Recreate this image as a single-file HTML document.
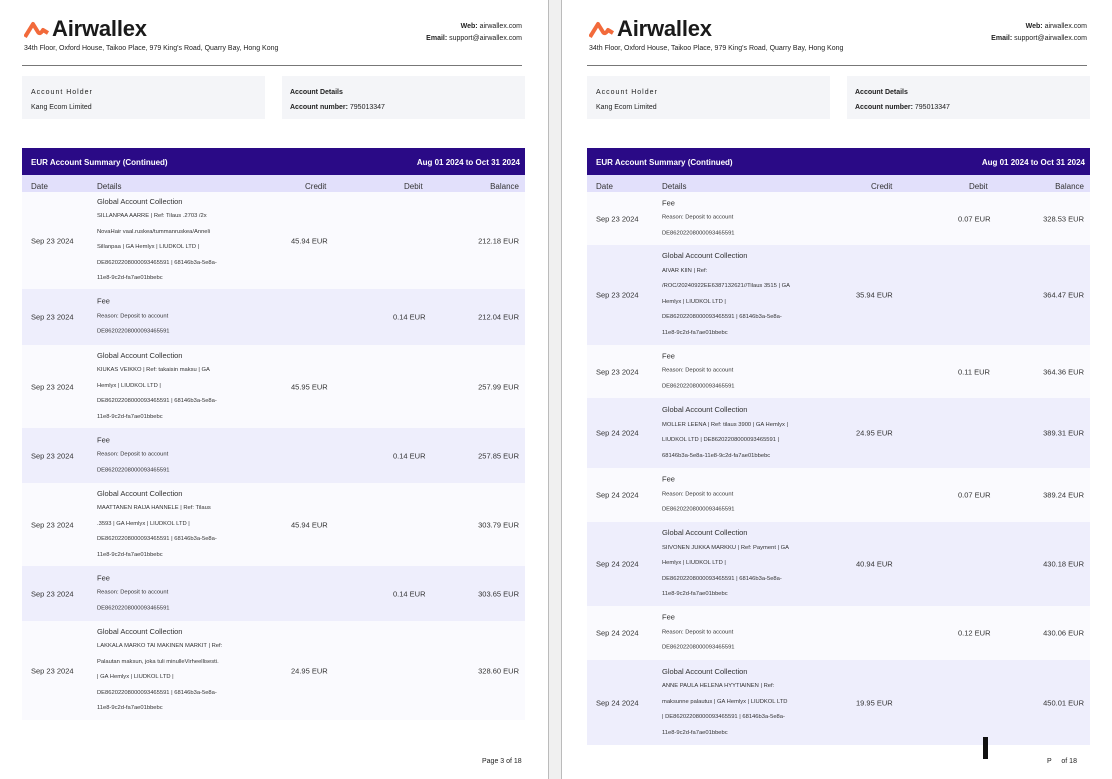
<!DOCTYPE html>
<html><head><meta charset="utf-8"><style>
*{margin:0;padding:0;box-sizing:border-box}
body{width:1112px;height:779px;background:#fff;position:relative;overflow:hidden;font-family:"Liberation Sans",sans-serif;color:#222}
.pg{position:absolute;top:0;width:548px;height:779px;background:#fff}
.a{position:absolute;white-space:nowrap}
.logo{font-weight:bold;font-size:22px;color:#1a1a1a;letter-spacing:-0.2px}
.s{font-size:7px}
.box{position:absolute;background:#f4f5f8;height:43px;top:76px}
.bar{position:absolute;left:22px;top:148px;width:503px;height:27px;background:#2a0a86;color:#fff;font-size:8px;font-weight:bold}
.ch{position:absolute;left:22px;top:175px;width:503px;height:17px;background:#e2e0fb;font-size:8px;color:#333}
.row{position:absolute;left:22px;width:503px}
.w{background:#fafafe}.l{background:#eeeefc}
.row .d,.row .c,.row .b,.row .e{position:absolute;top:50%;transform:translateY(-50%);font-size:7.5px;color:#333;white-space:nowrap}
.row .d{left:9px}.row .c{left:269px}.row .e{left:371px}.row .b{right:6px}
.det{position:absolute;left:75px;top:50%;transform:translateY(-50%);font-size:5.8px;color:#333;line-height:15.6px;white-space:nowrap}
.det .t{font-size:7.5px}
</style></head><body>
<div style="position:absolute;left:548px;top:0;width:14px;height:779px;background:#f0f0f0;border-left:1px solid #bbb;border-right:1px solid #bbb"></div>

<!-- PAGE 1 -->
<div class="pg" style="left:0">
<svg class="a" style="left:24px;top:21px" width="26" height="18" viewBox="0 0 26 18"><path d="M1 16 L9 3 L14 11 Q16 14 19 9 L24 12" fill="none" stroke="#f26a3b" stroke-width="4" stroke-linejoin="round"/></svg>
<div class="a logo" style="left:52px;top:16px">Airwallex</div>
<div class="a s" style="left:24px;top:45px">34th Floor, Oxford House, Taikoo Place, 979 King's Road, Quarry Bay, Hong Kong</div>
<div class="a s" style="right:26px;top:21px;text-align:right;line-height:12px"><b>Web:</b> airwallex.com<br><b>Email:</b> support@airwallex.com</div>
<div class="a" style="left:22px;top:65px;width:500px;border-top:1px solid #777"></div>
<div class="box" style="left:22px;width:243px"><div class="a s" style="left:9px;top:13px;letter-spacing:1px">Account Holder</div><div class="a s" style="left:9px;top:28px">Kang Ecom Limited</div></div>
<div class="box" style="left:282px;width:243px"><div class="a s" style="left:8px;top:13px;font-weight:bold">Account Details</div><div class="a s" style="left:8px;top:28px"><b>Account number:</b> 795013347</div></div>
<div class="bar"><span class="a" style="left:9px;top:10px">EUR Account Summary (Continued)</span><span class="a" style="right:5px;top:10px">Aug 01 2024 to Oct 31 2024</span></div>
<div class="ch"><span class="a" style="left:9px;top:7px">Date</span><span class="a" style="left:75px;top:7px">Details</span><span class="a" style="left:283px;top:7px">Credit</span><span class="a" style="left:382px;top:7px">Debit</span><span class="a" style="right:6px;top:7px">Balance</span></div>

<div class="row w" style="top:192px;height:97px"><span class="d">Sep 23 2024</span><div class="det"><div class="t">Global Account Collection</div>SILLANPAA AARRE | Ref: Tilaus .2703 /2x<br>NovaHair vaal.ruskea/tummanruskea/Anneli<br>Sillanpaa | GA Hemlyx | LIUDKOL LTD |<br>DE86202208000093465591 | 68146b3a-5e8a-<br>11e8-9c2d-fa7ae01bbebc</div><span class="c">45.94 EUR</span><span class="b">212.18 EUR</span></div>
<div class="row l" style="top:289px;height:56px"><span class="d">Sep 23 2024</span><div class="det"><div class="t">Fee</div>Reason: Deposit to account<br>DE86202208000093465591</div><span class="e">0.14 EUR</span><span class="b">212.04 EUR</span></div>
<div class="row w" style="top:345px;height:83px"><span class="d">Sep 23 2024</span><div class="det"><div class="t">Global Account Collection</div>KIUKAS VEIKKO | Ref: takaisin maksu | GA<br>Hemlyx | LIUDKOL LTD |<br>DE86202208000093465591 | 68146b3a-5e8a-<br>11e8-9c2d-fa7ae01bbebc</div><span class="c">45.95 EUR</span><span class="b">257.99 EUR</span></div>
<div class="row l" style="top:428px;height:55px"><span class="d">Sep 23 2024</span><div class="det"><div class="t">Fee</div>Reason: Deposit to account<br>DE86202208000093465591</div><span class="e">0.14 EUR</span><span class="b">257.85 EUR</span></div>
<div class="row w" style="top:483px;height:83px"><span class="d">Sep 23 2024</span><div class="det"><div class="t">Global Account Collection</div>MAATTANEN RAIJA HANNELE | Ref: Tilaus<br>.3593 | GA Hemlyx | LIUDKOL LTD |<br>DE86202208000093465591 | 68146b3a-5e8a-<br>11e8-9c2d-fa7ae01bbebc</div><span class="c">45.94 EUR</span><span class="b">303.79 EUR</span></div>
<div class="row l" style="top:566px;height:55px"><span class="d">Sep 23 2024</span><div class="det"><div class="t">Fee</div>Reason: Deposit to account<br>DE86202208000093465591</div><span class="e">0.14 EUR</span><span class="b">303.65 EUR</span></div>
<div class="row w" style="top:621px;height:99px"><span class="d">Sep 23 2024</span><div class="det"><div class="t">Global Account Collection</div>LAKKALA MARKO TAI MAKINEN MARKIT | Ref:<br>Palautan maksun, joka tuli minulleVirheellisesti.<br>| GA Hemlyx | LIUDKOL LTD |<br>DE86202208000093465591 | 68146b3a-5e8a-<br>11e8-9c2d-fa7ae01bbebc</div><span class="c">24.95 EUR</span><span class="b">328.60 EUR</span></div>
<div class="a s" style="left:482px;top:758px">Page 3 of 18</div>
</div>

<!-- PAGE 2 -->
<div class="pg" style="left:563px;width:549px">
<svg class="a" style="left:26px;top:21px" width="26" height="18" viewBox="0 0 26 18"><path d="M1 16 L9 3 L14 11 Q16 14 19 9 L24 12" fill="none" stroke="#f26a3b" stroke-width="4" stroke-linejoin="round"/></svg>
<div class="a logo" style="left:54px;top:16px">Airwallex</div>
<div class="a s" style="left:26px;top:45px">34th Floor, Oxford House, Taikoo Place, 979 King's Road, Quarry Bay, Hong Kong</div>
<div class="a s" style="right:25px;top:21px;text-align:right;line-height:12px"><b>Web:</b> airwallex.com<br><b>Email:</b> support@airwallex.com</div>
<div class="a" style="left:24px;top:65px;width:500px;border-top:1px solid #777"></div>
<div class="box" style="left:24px;width:243px"><div class="a s" style="left:9px;top:13px;letter-spacing:1px">Account Holder</div><div class="a s" style="left:9px;top:28px">Kang Ecom Limited</div></div>
<div class="box" style="left:284px;width:243px"><div class="a s" style="left:8px;top:13px;font-weight:bold">Account Details</div><div class="a s" style="left:8px;top:28px"><b>Account number:</b> 795013347</div></div>
<div class="bar" style="left:24px"><span class="a" style="left:9px;top:10px">EUR Account Summary (Continued)</span><span class="a" style="right:5px;top:10px">Aug 01 2024 to Oct 31 2024</span></div>
<div class="ch" style="left:24px"><span class="a" style="left:9px;top:7px">Date</span><span class="a" style="left:75px;top:7px">Details</span><span class="a" style="left:284px;top:7px">Credit</span><span class="a" style="left:382px;top:7px">Debit</span><span class="a" style="right:6px;top:7px">Balance</span></div>

<div class="row w" style="left:24px;top:192px;height:53px"><span class="d">Sep 23 2024</span><div class="det"><div class="t">Fee</div>Reason: Deposit to account<br>DE86202208000093465591</div><span class="e">0.07 EUR</span><span class="b">328.53 EUR</span></div>
<div class="row l" style="left:24px;top:245px;height:100px"><span class="d">Sep 23 2024</span><div class="det"><div class="t">Global Account Collection</div>AIVAR KIIN | Ref:<br>/ROC/20240922EE6387132621//Tilaus 3515 | GA<br>Hemlyx | LIUDKOL LTD |<br>DE86202208000093465591 | 68146b3a-5e8a-<br>11e8-9c2d-fa7ae01bbebc</div><span class="c">35.94 EUR</span><span class="b">364.47 EUR</span></div>
<div class="row w" style="left:24px;top:345px;height:53px"><span class="d">Sep 23 2024</span><div class="det"><div class="t">Fee</div>Reason: Deposit to account<br>DE86202208000093465591</div><span class="e">0.11 EUR</span><span class="b">364.36 EUR</span></div>
<div class="row l" style="left:24px;top:398px;height:70px"><span class="d">Sep 24 2024</span><div class="det"><div class="t">Global Account Collection</div>MOLLER LEENA | Ref: tilaus 3900 | GA Hemlyx |<br>LIUDKOL LTD | DE86202208000093465591 |<br>68146b3a-5e8a-11e8-9c2d-fa7ae01bbebc</div><span class="c">24.95 EUR</span><span class="b">389.31 EUR</span></div>
<div class="row w" style="left:24px;top:468px;height:54px"><span class="d">Sep 24 2024</span><div class="det"><div class="t">Fee</div>Reason: Deposit to account<br>DE86202208000093465591</div><span class="e">0.07 EUR</span><span class="b">389.24 EUR</span></div>
<div class="row l" style="left:24px;top:522px;height:84px"><span class="d">Sep 24 2024</span><div class="det"><div class="t">Global Account Collection</div>SIIVONEN JUKKA MARKKU | Ref: Payment | GA<br>Hemlyx | LIUDKOL LTD |<br>DE86202208000093465591 | 68146b3a-5e8a-<br>11e8-9c2d-fa7ae01bbebc</div><span class="c">40.94 EUR</span><span class="b">430.18 EUR</span></div>
<div class="row w" style="left:24px;top:606px;height:54px"><span class="d">Sep 24 2024</span><div class="det"><div class="t">Fee</div>Reason: Deposit to account<br>DE86202208000093465591</div><span class="e">0.12 EUR</span><span class="b">430.06 EUR</span></div>
<div class="row l" style="left:24px;top:660px;height:85px"><span class="d">Sep 24 2024</span><div class="det"><div class="t">Global Account Collection</div>ANNE PAULA HELENA HYYTIAINEN | Ref:<br>maksunne palautus | GA Hemlyx | LIUDKOL LTD<br>| DE86202208000093465591 | 68146b3a-5e8a-<br>11e8-9c2d-fa7ae01bbebc</div><span class="c">19.95 EUR</span><span class="b">450.01 EUR</span></div>
<div class="a" style="left:420px;top:737px;width:5px;height:22px;background:#111"></div>
<div class="a s" style="left:484px;top:758px">P&nbsp;&nbsp;&nbsp;&nbsp;&nbsp;of 18</div>
</div>
</body></html>
